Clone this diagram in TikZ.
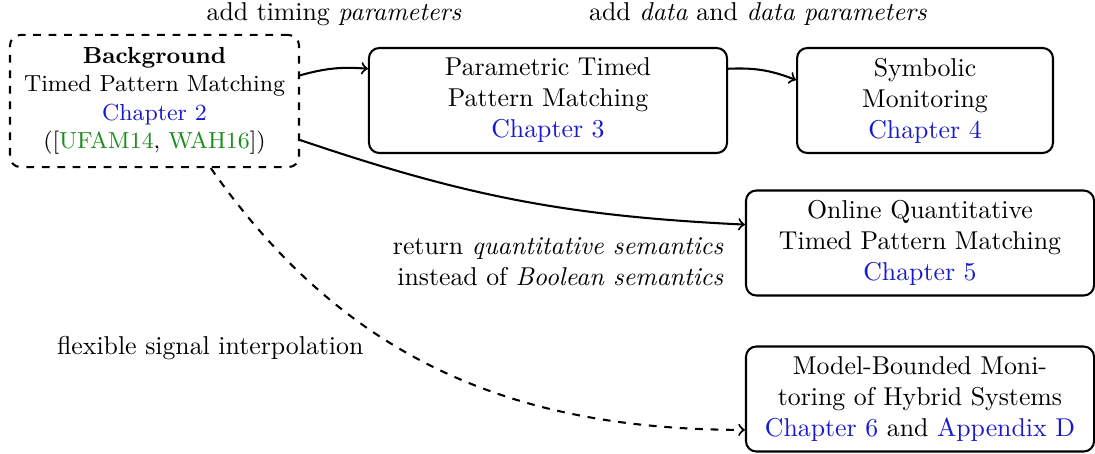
\documentclass[tikz,border=0pt]{standalone}
\usepackage{amsmath}
\usepackage{tikz}
\usetikzlibrary{arrows}
\definecolor{chapblue}{rgb}{0.1,0.1,0.8}
\definecolor{citegreen}{rgb}{0.1,0.55,0.1}
\newcommand{\chap}[1]{\textcolor{chapblue}{#1}}
\newcommand{\citeg}[1]{\textcolor{citegreen}{#1}}
\tikzset{box/.style={draw=black, thick, rounded corners=4pt, align=center, inner sep=2pt},
%same box, but dashed
dashbox/.style={box, dashed, font=\small},
lbl/.style={inner sep=1pt}}

\begin{document}
\begin{tikzpicture}[x=0.3876pt, y=-0.3876pt, thick]
%\draw [help lines] (0,0) grid (1095,453);
\useasboundingbox (0,0) rectangle (1095,453);

% boxes
\node[dashbox, minimum width=112pt, minimum height=51.2pt] (bg) at (154.5,101)
    {\textbf{Background}\\Timed Pattern Matching\\\chap{Chapter 2}\\([\citeg{UFAM14}, \citeg{WAH16}])};
\node[box, minimum width=138.8pt, minimum height=40.7pt] (ptpm) at (548,100.5)
    {Parametric Timed\\Pattern Matching\\\chap{Chapter 3}};
\node[box, minimum width=99.2pt, minimum height=40.7pt] (symb) at (925,100.5)
    {Symbolic\\Monitoring\\\chap{Chapter 4}};
\node[box, minimum width=134.9pt, minimum height=40.7pt] (online) at (920,243)
    {Online Quantitative\\Timed Pattern Matching\\\chap{Chapter 5}};
\node[box, minimum width=134.9pt, minimum height=40.7pt] (mbm) at (920,399)
    {Model-Bounded Moni-\\toring of Hybrid Systems\\\chap{Chapter 6} and \chap{Appendix D}};

%labels
\node[lbl] (ltime) at (334,14) {add timing \textit{parameters}};
\node[lbl] (ldata) at (758,14) {add \textit{data} and \textit{data parameters}};
\node[lbl, align=right, anchor=east] (lquant) at (727,262)
    {return \textit{quantitative semantics}\\instead of \textit{Boolean semantics}};
\node[lbl, anchor=east] (linterp) at (367,348) {flexible signal interpolation};

% arrows
\draw [->] (bg.10) to[bend left=10] (ptpm.170);
\draw [->] (ptpm.10) to[bend left=12] (symb.171);
\draw [->] (bg.-15) to[bend right=8] (online.174);
\draw [->, dashed] (bg.-50) to[out=-55, in=180] (mbm.190);

\end{tikzpicture}
\end{document}
